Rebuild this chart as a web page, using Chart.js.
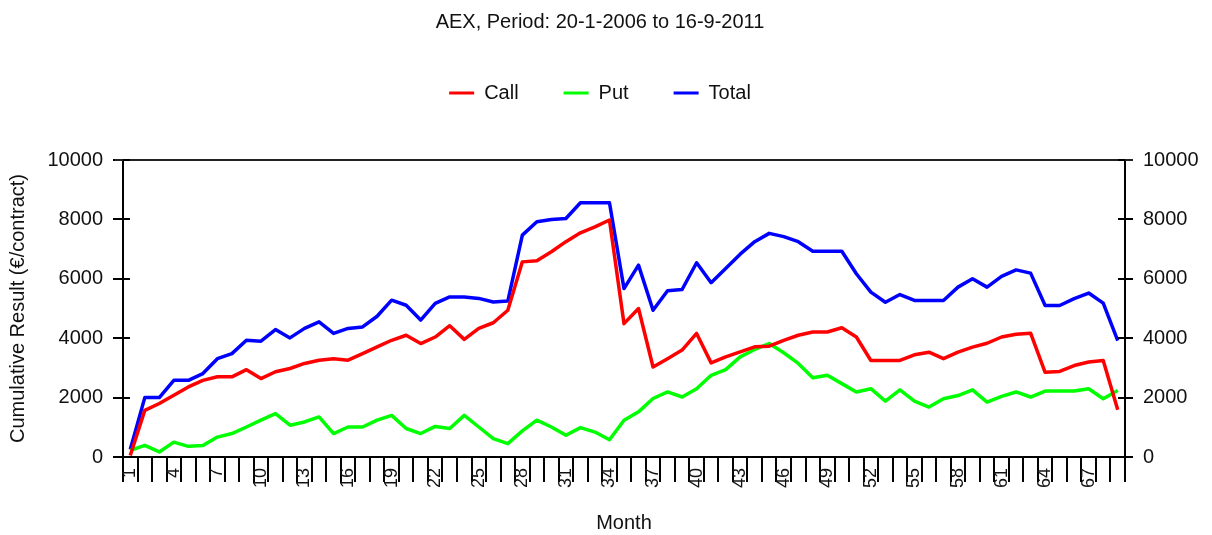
<!DOCTYPE html>
<html>
<head>
<meta charset="utf-8">
<script src="https://cdn.jsdelivr.net/npm/chart.js@4/dist/chart.umd.min.js"></script>
<style>
    html, body { margin: 0; padding: 0; background: #fff; }
    #wrap { width: 1212px; height: 535px; }
</style>
</head>
<body>
<div id="wrap"><canvas id="aexChart"></canvas></div>
<script>
const months = ['1', '2', '3', '4', '5', '6', '7', '8', '9', '10', '11', '12', '13', '14', '15', '16', '17', '18', '19', '20',
    '21', '22', '23', '24', '25', '26', '27', '28', '29', '30', '31', '32', '33', '34', '35', '36', '37', '38', '39', '40',
    '41', '42', '43', '44', '45', '46', '47', '48', '49', '50', '51', '52', '53', '54', '55', '56', '57', '58', '59', '60',
    '61', '62', '63', '64', '65', '66', '67', '68', '69'];

// only every third month gets a label on the axis
const shownMonths = ['1', '4', '7', '10', '13', '16', '19', '22', '25', '28', '31', '34', '37', '40', '43', '46', '49', '52',
    '55', '58', '61', '64', '67'];

const callResult = [50, 1570, 1800, 2080, 2360, 2580, 2700, 2700, 2940, 2640, 2870, 2980, 3150, 3260, 3310, 3260, 3480, 3710,
    3930, 4100, 3820, 4040, 4420, 3960, 4330, 4520, 4940, 6570, 6610, 6910, 7250, 7550, 7750, 7980, 4490, 5000, 3030, 3310,
    3600, 4160, 3170, 3370, 3540, 3710, 3730, 3930, 4100, 4210, 4210, 4350, 4040, 3250, 3250, 3250, 3440, 3530, 3310, 3530,
    3700, 3830, 4040, 4130, 4170, 2850, 2880, 3080, 3200, 3250, 1590];

const putResult = [220, 390, 170, 500, 360, 390, 670, 790, 1010, 1240, 1460, 1070, 1180, 1350, 790, 1010, 1010, 1240, 1400,
    960, 790, 1030, 960, 1400, 1010, 620, 450, 880, 1240, 1010, 730, 990, 840, 580, 1240, 1520, 1970, 2190, 2020, 2300, 2750,
    2940, 3370, 3620, 3820, 3510, 3150, 2670, 2750, 2470, 2190, 2300, 1880, 2260, 1880, 1680, 1960, 2070, 2260, 1850, 2040,
    2190, 2020, 2220, 2220, 2220, 2300, 1960, 2240];

const totalResult = [250, 2000, 2000, 2580, 2580, 2810, 3310, 3480, 3930, 3900, 4290, 4010, 4330, 4550, 4160, 4330, 4380,
    4740, 5280, 5110, 4610, 5170, 5390, 5390, 5340, 5220, 5250, 7470, 7920, 8000, 8030, 8560, 8560, 8560, 5670, 6460, 4940,
    5600, 5640, 6540, 5870, 6350, 6830, 7250, 7530, 7420, 7250, 6930, 6930, 6930, 6170, 5550, 5210, 5470, 5270, 5270, 5270,
    5720, 6000, 5720, 6080, 6300, 6190, 5100, 5100, 5330, 5520, 5180, 3920];

const yTicks = [0, 2000, 4000, 6000, 8000, 10000];

const fontFamily = '"Liberation Sans", Arial, sans-serif';
const textColor = '#111';

// push the plot area down below the legend
const legendGap = {
    id: 'legendGap',
    beforeInit(chart) {
        const origFit = chart.legend.fit;
        chart.legend.fit = function () {
            origFit.call(this);
            this.height = 122;
        };
    }
};

// top frame line and the inner half of the y tick marks
const frameAndTicks = {
    id: 'frameAndTicks',
    afterDraw(chart) {
        const { ctx, chartArea } = chart;
        ctx.save();
        ctx.strokeStyle = '#222';
        ctx.lineWidth = 2;
        ctx.beginPath();
        ctx.moveTo(chartArea.left - 8, chartArea.top);
        ctx.lineTo(chartArea.right + 8, chartArea.top);
        ctx.stroke();

        ctx.strokeStyle = '#000';
        ['y', 'y1'].forEach(id => {
            const scale = chart.scales[id];
            const inward = id === 'y' ? 7 : -7;
            const x0 = id === 'y' ? chartArea.left : chartArea.right;
            scale.ticks.forEach(t => {
                const py = Math.round(scale.getPixelForValue(t.value));
                ctx.beginPath();
                ctx.moveTo(x0, py);
                ctx.lineTo(x0 + inward, py);
                ctx.stroke();
            });
        });
        ctx.restore();
    }
};

const plainNumber = value => String(value);

const ctx = document.getElementById('aexChart').getContext('2d');

new Chart(ctx, {
    type: 'line',
    data: {
        labels: months,
        datasets: [
            {
                label: 'Call',
                data: callResult,
                borderColor: '#ff0000',
                backgroundColor: '#ff0000',
                borderWidth: 3.5
            },
            {
                label: 'Put',
                data: putResult,
                borderColor: '#00ff00',
                backgroundColor: '#00ff00',
                borderWidth: 3.5
            },
            {
                label: 'Total',
                data: totalResult,
                borderColor: '#0000ff',
                backgroundColor: '#0000ff',
                borderWidth: 3.5
            }
        ]
    },
    options: {
        responsive: true,
        maintainAspectRatio: false,
        animation: false,
        layout: {
            padding: { left: 0, right: 12, top: 0, bottom: 0 }
        },
        elements: {
            point: { radius: 0, hoverRadius: 0 },
            line: { tension: 0, borderJoinStyle: 'round' }
        },
        plugins: {
            title: {
                display: true,
                text: 'AEX, Period: 20-1-2006 to 16-9-2011',
                color: textColor,
                font: { family: fontFamily, size: 20, weight: 'normal' },
                padding: { top: 10, bottom: 4 }
            },
            legend: {
                display: true,
                labels: {
                    color: textColor,
                    font: { family: fontFamily, size: 20 },
                    boxWidth: 25,
                    boxHeight: 3,
                    padding: 45,
                    generateLabels(chart) {
                        return Chart.defaults.plugins.legend.labels.generateLabels(chart).map(item => {
                            item.lineWidth = 0;
                            item.strokeStyle = 'rgba(0,0,0,0)';
                            return item;
                        });
                    }
                }
            },
            tooltip: { enabled: false }
        },
        scales: {
            x: {
                type: 'category',
                offset: true,
                grid: {
                    offset: true,
                    drawOnChartArea: false,
                    drawTicks: true,
                    tickLength: 25,
                    color: '#000',
                    lineWidth: 2
                },
                border: { display: true, color: '#000', width: 2 },
                ticks: {
                    autoSkip: false,
                    maxRotation: 90,
                    minRotation: 90,
                    padding: -14,
                    color: textColor,
                    font: { family: fontFamily, size: 18 },
                    callback: function (value) {
                        const label = this.getLabelForValue(value);
                        return shownMonths.includes(label) ? label : '';
                    }
                },
                title: {
                    display: true,
                    text: 'Month',
                    color: textColor,
                    font: { family: fontFamily, size: 20 },
                    padding: { top: 0, bottom: 0 }
                },
                afterFit(scale) {
                    scale.height = 78;
                }
            },
            y: {
                position: 'left',
                min: 0,
                max: 10000,
                afterBuildTicks(scale) {
                    scale.ticks = yTicks.map(v => ({ value: v }));
                },
                grid: {
                    drawOnChartArea: false,
                    tickLength: 10,
                    color: '#000',
                    lineWidth: 2
                },
                border: { display: true, color: '#000', width: 2 },
                ticks: {
                    padding: 10,
                    color: textColor,
                    font: { family: fontFamily, size: 20 },
                    callback: plainNumber
                },
                title: {
                    display: true,
                    text: 'Cumulative Result (€/contract)',
                    color: textColor,
                    font: { family: fontFamily, size: 20 },
                    padding: { top: 6, bottom: 7 }
                },
                afterFit(scale) {
                    scale.width = 123;
                }
            },
            y1: {
                position: 'right',
                min: 0,
                max: 10000,
                afterBuildTicks(scale) {
                    scale.ticks = yTicks.map(v => ({ value: v }));
                },
                grid: {
                    drawOnChartArea: false,
                    tickLength: 8,
                    color: '#000',
                    lineWidth: 2
                },
                border: { display: true, color: '#000', width: 2 },
                ticks: {
                    padding: 10,
                    color: textColor,
                    font: { family: fontFamily, size: 20 },
                    callback: plainNumber
                },
                afterFit(scale) {
                    scale.width = 75;
                }
            }
        }
    },
    plugins: [legendGap, frameAndTicks]
});
</script>
</body>
</html>
